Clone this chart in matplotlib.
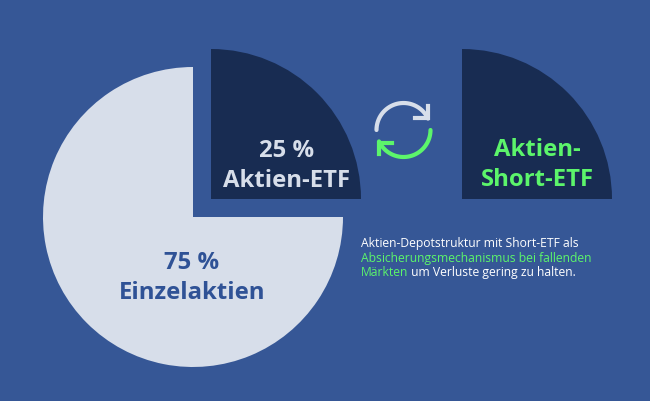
#!/usr/bin/env python3

# Depot structure: big pie slice, the ETF slice pulled out, and the short ETF slice

import numpy as np
import matplotlib.pyplot as plt
from matplotlib.patches import Wedge

W, H = 650, 401
BG = '#365796'
DARK = '#182c52'
LIGHT = '#d7deea'
GREEN = '#5cf56b'
BLUE = '#2f5296'

shares = [75, 25]
share_labels = ['75 %\nEinzelaktien', '25 %\nAktien-ETF']
short_label = 'Aktien-\nShort-ETF'
note_line1 = 'Aktien-Depotstruktur mit Short-ETF als'
note_line2 = 'Absicherungsmechanismus bei fallenden'
note_line3a = 'Märkten'
note_line3b = ' um Verluste gering zu halten.'

plt.rcParams['font.family'] = ['Open Sans', 'DejaVu Sans']

fig = plt.figure(figsize=(W / 100, H / 100), dpi=100, facecolor=BG)
ax = fig.add_axes([0, 0, 1, 1])
ax.set_xlim(0, W)
ax.set_ylim(H, 0)   # pixel coordinates, y runs down
ax.axis('off')

R = 150
big_angle = shares[0] / sum(shares) * 360
small_angle = shares[1] / sum(shares) * 360

# y is flipped, so clockwise from 12 o'clock means going from -90 upwards
ax.add_patch(Wedge((193, 217), R, -90 + small_angle, -90 + small_angle + big_angle,
                   fc=LIGHT, ec='none'))
ax.add_patch(Wedge((211, 199), R, -90, -90 + small_angle, fc=DARK, ec='none'))
ax.add_patch(Wedge((462, 199), R, -90, -90 + small_angle, fc=DARK, ec='none'))

big = dict(fontsize=17.2, fontweight='bold', ha='center', va='center', linespacing=1.3)
ax.text(192, 278, share_labels[0], color=BLUE, **big)
ax.text(287, 166, share_labels[1], color=LIGHT, **big)
ax.text(537, 165, short_label, color=GREEN, **big)

# refresh icon
cx, cy, r = 403.5, 130, 27
t = np.radians(np.linspace(180, 335, 40))
ax.plot(cx + r * np.cos(t), cy + r * np.sin(t), color=LIGHT, lw=3, solid_capstyle='round')
ax.plot([428, 428, 415], [106, 118, 118], color=LIGHT, lw=3, solid_joinstyle='miter')
t = np.radians(np.linspace(0, 155, 40))
ax.plot(cx + r * np.cos(t), cy + r * np.sin(t), color=GREEN, lw=3, solid_capstyle='round')
ax.plot([379, 379, 392], [154, 143, 143], color=GREEN, lw=3, solid_joinstyle='miter')

# note, three lines with mixed colours
small = dict(fontsize=8.7, ha='left', va='center')
ax.text(361, 243.5, note_line1, color='white', **small)
ax.text(361, 258.5, note_line2, color=GREEN, **small)
first = ax.text(361, 272.5, note_line3a, color=GREEN, **small)
fig.canvas.draw()
box = first.get_window_extent().transformed(ax.transData.inverted())
ax.text(box.x1, 272.5, note_line3b, color='white', **small)

fig.savefig('out.png', dpi=100, facecolor=BG)
